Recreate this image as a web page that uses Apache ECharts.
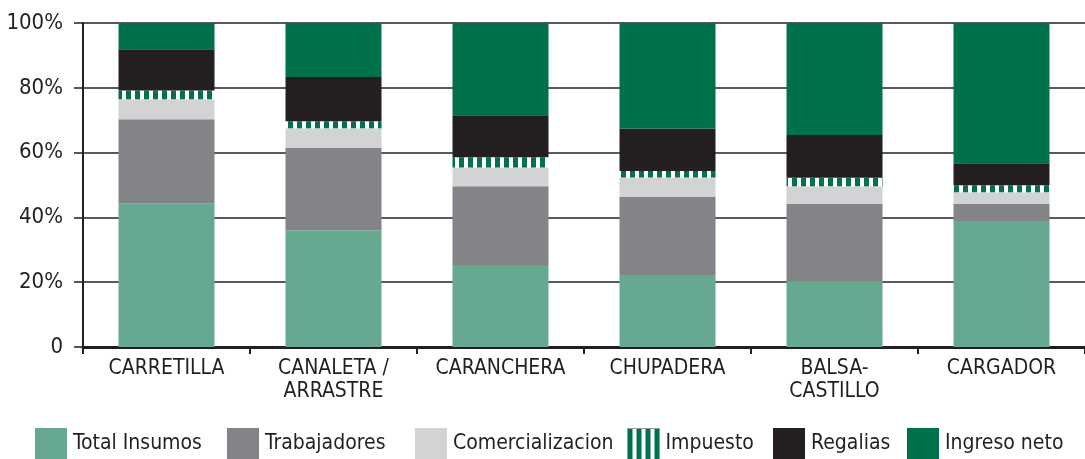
<!DOCTYPE html>
<html>
<head>
<meta charset="utf-8">
<script src="https://cdn.jsdelivr.net/npm/echarts@6/dist/echarts.min.js"></script>
<style>
  html, body { margin: 0; padding: 0; background: #fff; }
  #main { width: 1085px; height: 459px; }
</style>
</head>
<body>
<div id="main"></div>
<script>
var categorias = ['CARRETILLA', 'CANALETA /\nARRASTRE', 'CARANCHERA', 'CHUPADERA', 'BALSA-\nCASTILLO', 'CARGADOR'];
var nombres = ['Total Insumos', 'Trabajadores', 'Comercializacion', 'Impuesto', 'Regalias', 'Ingreso neto'];
var totalInsumos = [44.4, 36.0, 25.3, 22.2, 20.4, 38.9];
var trabajadores = [25.9, 25.4, 24.3, 24.1, 23.7, 5.2];
var comercializacion = [6.2, 6.1, 5.8, 6.0, 5.5, 3.7];
var impuesto = [2.7, 2.2, 3.2, 2.0, 2.6, 2.1];
var regalias = [12.7, 13.6, 12.9, 13.1, 13.2, 6.8];
var ingresoNeto = [8.1, 16.7, 28.5, 32.6, 34.6, 43.3];

var fuente = '"Liberation Sans Narrow", "DejaVu Sans Condensed", sans-serif';
var verde = '#00714b';

// patron de rayas verticales para Impuesto
var pat = document.createElement('canvas');
pat.width = 9; pat.height = 10;
var pctx = pat.getContext('2d');
pctx.fillStyle = '#ffffff';
pctx.fillRect(0, 0, 9, 10);
pctx.fillStyle = verde;
pctx.fillRect(0, 0, 5, 10);

var myChart = echarts.init(document.getElementById('main'));

function serie(nombre, datos, color) {
	return {
		name: nombre,
		type: 'bar',
		stack: 'total',
		barWidth: 96,
		data: datos,
		itemStyle: {color: color},
		emphasis: {disabled: true}
	};
}

// una leyenda por elemento, para colocarlas como en el original
var leyendaX = [35, 227, 415, 627, 773, 907];
var leyendas = nombres.map(function (n, i) {
	var item = {name: n, icon: 'rect'};
	if (n === 'Impuesto') {
		item.itemStyle = {borderColor: '#9a9a9a', borderWidth: 1};
	}
	return {
		left: leyendaX[i],
		top: 428,
		padding: 0,
		itemWidth: 32,
		itemHeight: 31,
		itemGap: 0,
		selectedMode: false,
		textStyle: {fontFamily: fuente, fontSize: 21, color: '#231f20', padding: [0, 0, 0, 1]},
		data: [item]
	};
});

var option = {
	animation: false,
	textStyle: {fontFamily: fuente},
	grid: {left: 83, right: -14, top: 23, bottom: 112, containLabel: false},
	legend: leyendas,
	xAxis: {
		type: 'category',
		data: categorias,
		axisLine: {lineStyle: {color: '#231f20', width: 3}},
		axisTick: {show: true, length: 7, lineStyle: {color: '#231f20', width: 2}},
		axisLabel: {
			fontFamily: fuente,
			fontSize: 21,
			color: '#231f20',
			margin: 10,
			lineHeight: 23,
			interval: 0
		}
	},
	yAxis: {
		type: 'value',
		min: 0,
		max: 100,
		interval: 20,
		axisLine: {show: true, lineStyle: {color: '#231f20', width: 2}},
		axisTick: {show: true, length: 9, lineStyle: {color: '#231f20', width: 1.5}},
		axisLabel: {
			fontFamily: fuente,
			fontSize: 22,
			color: '#231f20',
			margin: 20,
			formatter: function (v) { return v === 0 ? '0' : v + '%'; }
		},
		splitLine: {show: true, lineStyle: {color: '#5a5a5a', width: 2}}
	},
	series: [
		serie(nombres[0], totalInsumos, '#67a891'),
		serie(nombres[1], trabajadores, '#838487'),
		serie(nombres[2], comercializacion, '#d1d3d4'),
		serie(nombres[3], impuesto, {image: pat, repeat: 'repeat'}),
		serie(nombres[4], regalias, '#231f20'),
		serie(nombres[5], ingresoNeto, verde)
	]
};

myChart.setOption(option);
</script>
</body>
</html>
